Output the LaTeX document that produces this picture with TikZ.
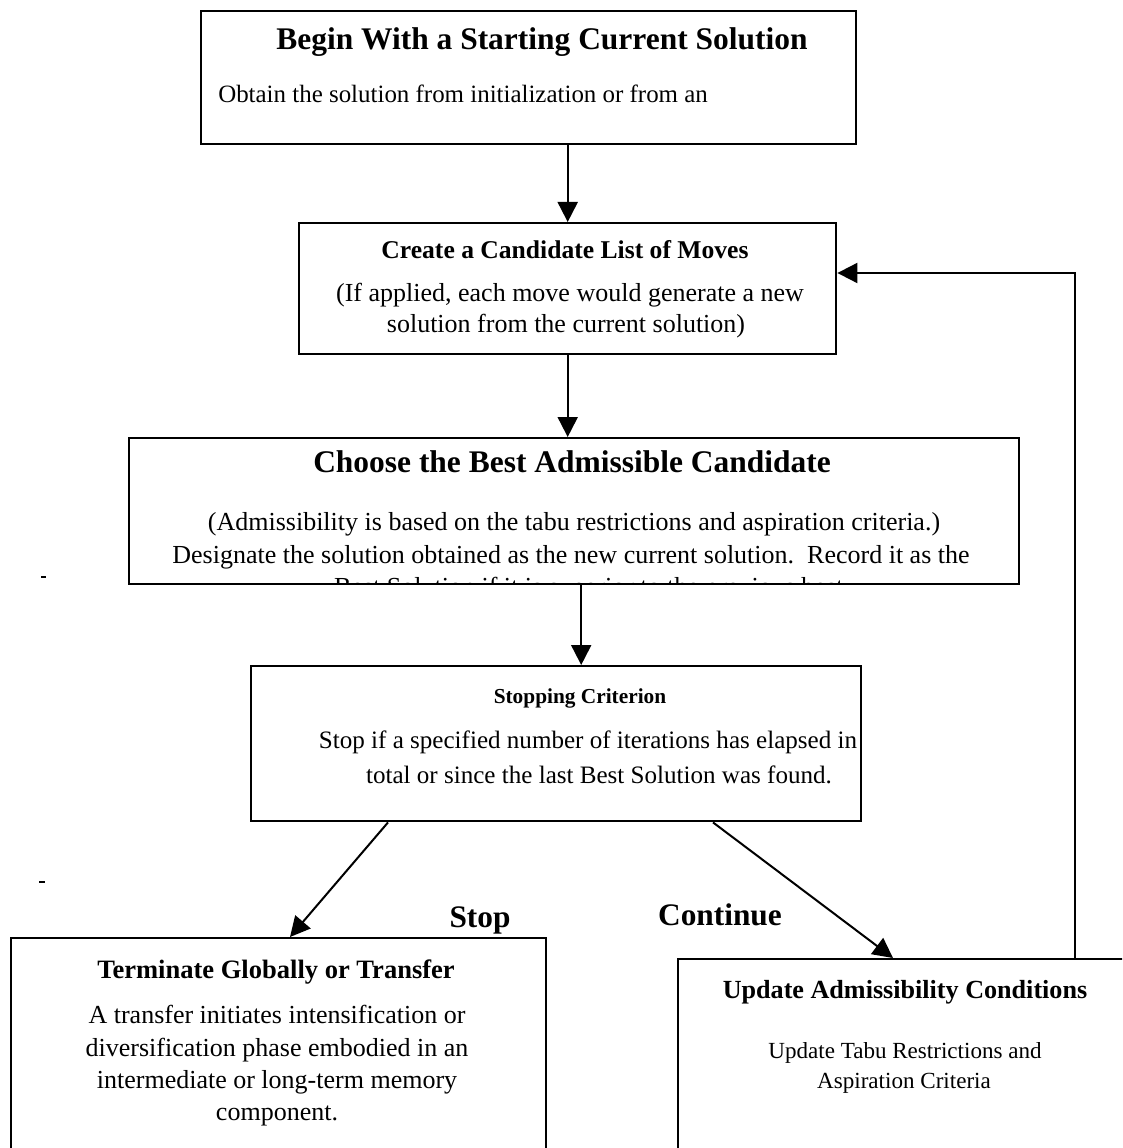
\documentclass[tikz,border=0pt]{standalone}
\usepackage{fontspec}
\setmainfont{Liberation Serif}
\usetikzlibrary{arrows.meta,calc}
\begin{document}
\begin{tikzpicture}[x=0.75pt,y=-0.75pt,
  box/.style={draw, line width=1.8pt, inner sep=0pt, anchor=north west},
  arr/.style={line width=1.5pt, -{Triangle[length=15pt,width=15pt]}},
  bigtitle/.style={anchor=base, inner sep=0pt, font=\fontsize{23.6}{28}\bfseries\selectfont},
  title/.style={anchor=base, inner sep=0pt, font=\fontsize{19.2}{23}\bfseries\selectfont},
  body/.style={anchor=base, inner sep=0pt, font=\fontsize{19.5}{24.75}\selectfont},
  label/.style={anchor=base, inner sep=0pt, font=\fontsize{23.5}{28}\bfseries\selectfont}
]
\useasboundingbox (0,0) rectangle (1122,1148);
\clip (0,0) rectangle (1122,1148);

% boxes
\node[box, minimum width=655*0.75pt, minimum height=133*0.75pt] (b1) at (200,10) {};
\node[box, minimum width=537*0.75pt, minimum height=131*0.75pt] (b2) at (298,222) {};
\node[box, minimum width=890*0.75pt, minimum height=146*0.75pt] (b3) at (128,437) {};
\node[box, minimum width=610*0.75pt, minimum height=155*0.75pt] (b4) at (250,665) {};
\node[box, minimum width=535*0.75pt, minimum height=260*0.75pt] (b5) at (10,937) {};
\node[box, minimum width=470*0.75pt, minimum height=240*0.75pt] (b6) at (677,958) {};

% box 1
\node[bigtitle] (t1) at (542,50) {Begin With a Starting Current Solution};
\node[body, anchor=base west, font=\fontsize{18.7}{24}\selectfont] (s1) at (218,103) {Obtain the solution from initialization or from an};

% box 2
\node[title] (t2) at (565,258) {Create a Candidate List of Moves};
\node[body] (s2a) at (570,301) {(If applied, each move would generate a new};
\node[body] (s2b) at (566,332) {solution from the current solution)};

% box 3, its last line cut off by the frame
\node[bigtitle] (t3) at (572,472) {Choose the Best Admissible Candidate};
\node[body] (s3a) at (574,530) {(Admissibility is based on the tabu restrictions and aspiration criteria.)};
\node[body] (s3b) at (571,563) {Designate the solution obtained as the new current solution.\ \ Record it as the};
\begin{scope}
  \clip (b3.north west) rectangle ($(b3.south east)+(0,-2)$);
  \node[body] (s3c) at (592,595) {Best Solution if it is superior to the previous best.};
\end{scope}

% box 4
\node[title, font=\fontsize{16}{20}\bfseries\selectfont] (t4) at (580,703) {Stopping Criterion};
\node[body, font=\fontsize{18.8}{24}\selectfont] (s4a) at (588,748) {Stop if a specified number of iterations has elapsed in};
\node[body, font=\fontsize{18.8}{24}\selectfont] (s4b) at (599,783) {total or since the last Best Solution was found.};

% box 5
\node[title, font=\fontsize{19.9}{24}\bfseries\selectfont] (t5) at (276,978) {Terminate Globally or Transfer};
\node[body] (s5a) at (277,1023) {A transfer initiates intensification or};
\node[body] (s5b) at (277,1056) {diversification phase embodied in an};
\node[body] (s5c) at (277,1088) {intermediate or long-term memory};
\node[body] (s5d) at (277,1120) {component.};

% box 6
\node[title, font=\fontsize{19.6}{24}\bfseries\selectfont] (t6) at (905,998) {Update Admissibility Conditions};
\node[body, font=\fontsize{17.3}{22}\selectfont] (s6a) at (905,1058) {Update Tabu Restrictions and};
\node[body, font=\fontsize{17.3}{22}\selectfont] (s6b) at (904,1088) {Aspiration Criteria};

% branch labels
\node[label] (stop) at (480,927) {Stop};
\node[label] (cont) at (720,925) {Continue};

% connectors
\coordinate (c3) at ($(b3.south)+(7,0)$);
\coordinate (c4l) at ($(b4.south west)+(138,0)$);
\coordinate (c5) at ($(b5.north west)+(280,0)$);
\coordinate (c4r) at ($(b4.south west)+(463,0)$);
\coordinate (c6) at ($(b6.north west)+(216,0)$);
\coordinate (c6f) at ($(b6.north west)+(398,0)$);
\coordinate (c2) at ($(b2.north east)+(0,51)$);
\draw[arr] (b1.south -| b2.north) -- (b2.north);
\draw[arr] (b2.south) -- (b2.south |- b3.north);
\draw[arr] (c3) -- (c3 |- b4.north);
\draw[arr] (c4l) -- (c5);
\draw[arr] (c4r) -- (c6);
\draw[arr] (c6f) |- (c2);

% specks
\draw[line width=1pt] (41,577) -- (46,577);
\draw[line width=1pt] (39,882) -- (45,882);
\end{tikzpicture}
\end{document}
